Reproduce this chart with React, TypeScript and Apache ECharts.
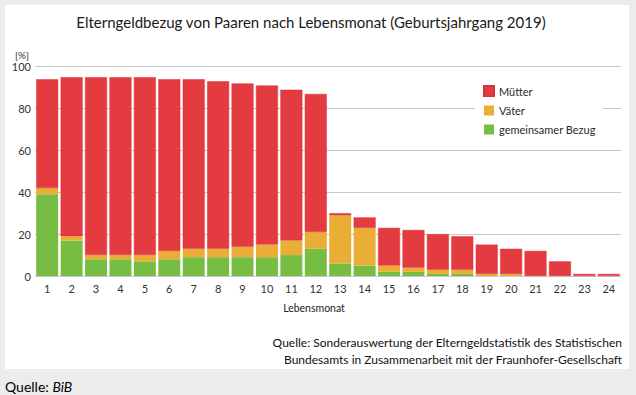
import React, { useEffect, useRef } from "react";
import * as echarts from "echarts";

const months = ["1","2","3","4","5","6","7","8","9","10","11","12","13","14","15","16","17","18","19","20","21","22","23","24"];
const gemeinsamerBezug = [39, 17, 8, 8, 7, 8, 9, 9, 9, 9, 10, 13, 6, 5, 2, 2, 1, 1, 0, 0, 0, 0, 0, 0];
const vaeter = [3, 2, 2, 2, 3, 4, 4, 4, 5, 6, 7, 8, 23, 18, 3, 2, 2, 2, 1, 1, 0, 0, 0, 0];
const muetter = [52, 76, 85, 85, 85, 82, 81, 80, 78, 76, 72, 66, 1, 5, 18, 18, 17, 16, 14, 12, 12, 7, 1, 1];
const legendNames = ["Mütter", "Väter", "gemeinsamer Bezug"];
const titleText = "Elterngeldbezug von Paaren nach Lebensmonat (Geburtsjahrgang 2019)";
const sourceLines = [
  "Quelle: Sonderauswertung der Elterngeldstatistik des Statistischen",
  "Bundesamts in Zusammenarbeit mit der Fraunhofer-Gesellschaft",
];

const FONT = "Lato";
const RED = "#e43b41";
const ORANGE = "#eaae37";
const GREEN = "#77bd43";

export default function App() {
  const ref = useRef<HTMLDivElement>(null);
  useEffect(() => {
    if (!ref.current) return;
    const chart = echarts.init(ref.current, undefined, { renderer: "svg" });
    chart.setOption({
      animation: false,
      backgroundColor: "transparent",
      textStyle: { fontFamily: FONT },
      grid: { left: 35, right: 15, top: 66.7, bottom: 119, containLabel: false },
      legend: {
        orient: "vertical",
        left: 475,
        top: 81,
        data: legendNames,
        icon: "rect",
        itemWidth: 10,
        itemHeight: 10,
        itemGap: 8,
        itemTextGap: 5,
        backgroundColor: "#ffffff",
        padding: [4, 7, 4, 8],
        textStyle: { fontSize: 11, color: "#2a2a2a", fontFamily: FONT },
        selectedMode: false,
      },
      xAxis: {
        type: "category",
        data: months,
        axisLine: { show: false },
        axisTick: { show: false },
        axisLabel: { fontSize: 11, color: "#333", margin: 7, fontFamily: FONT },
      },
      yAxis: {
        type: "value",
        min: 0,
        max: 100,
        interval: 20,
        axisLine: { show: false },
        axisTick: { show: false },
        axisLabel: { fontSize: 11, color: "#333", margin: 4, fontFamily: FONT },
        splitLine: { lineStyle: { color: "#c9c9c9", width: 1 } },
      },
      series: [
        {
          name: "gemeinsamer Bezug",
          type: "bar",
          stack: "total",
          data: gemeinsamerBezug,
          barCategoryGap: "10%",
          itemStyle: { color: GREEN },
        },
        {
          name: "Väter",
          type: "bar",
          stack: "total",
          data: vaeter,
          barCategoryGap: "10%",
          itemStyle: { color: ORANGE },
        },
        {
          name: "Mütter",
          type: "bar",
          stack: "total",
          data: muetter,
          barCategoryGap: "10%",
          itemStyle: { color: RED, borderColor: "#d8323a", borderWidth: 0.5 },
        },
      ],
      graphic: [
        {
          type: "text",
          x: 311,
          y: 22,
          style: {
            text: titleText,
            font: `15px ${FONT}`,
            fill: "#1a1a1a",
            textAlign: "center",
            textVerticalAlign: "middle",
          },
        },
        {
          type: "text",
          x: 22,
          y: 55,
          style: {
            text: "[%]",
            font: `10px ${FONT}`,
            fill: "#333",
            textAlign: "center",
            textVerticalAlign: "middle",
          },
        },
        {
          type: "text",
          x: 314,
          y: 308,
          style: {
            text: "Lebensmonat",
            font: `10.5px ${FONT}`,
            fill: "#222",
            textAlign: "center",
            textVerticalAlign: "middle",
          },
        },
        {
          type: "text",
          x: 622,
          y: 342,
          style: {
            text: sourceLines[0],
            font: `12px ${FONT}`,
            fill: "#111",
            textAlign: "right",
            textVerticalAlign: "middle",
          },
        },
        {
          type: "text",
          x: 622,
          y: 359,
          style: {
            text: sourceLines[1],
            font: `12px ${FONT}`,
            fill: "#111",
            textAlign: "right",
            textVerticalAlign: "middle",
          },
        },
        {
          type: "text",
          x: 5,
          y: 386,
          style: {
            text: "{a|Quelle: }{b|BiB}",
            textVerticalAlign: "middle",
            rich: {
              a: { fontSize: 14, fontFamily: FONT, color: "#2a3a52" },
              b: { fontSize: 14, fontFamily: FONT, fontStyle: "italic", color: "#2a3a52" },
            },
          },
        },
      ],
    });
    return () => chart.dispose();
  }, []);

  return (
    <div style={{ position: "fixed", left: 0, top: 0, width: 636, height: 395, background: "#ececec" }}>
      <div style={{ position: "absolute", left: 5, top: 5, width: 624, height: 364, background: "#ffffff" }} />
      <div ref={ref} style={{ position: "absolute", left: 0, top: 0, width: 636, height: 395 }} />
    </div>
  );
}
